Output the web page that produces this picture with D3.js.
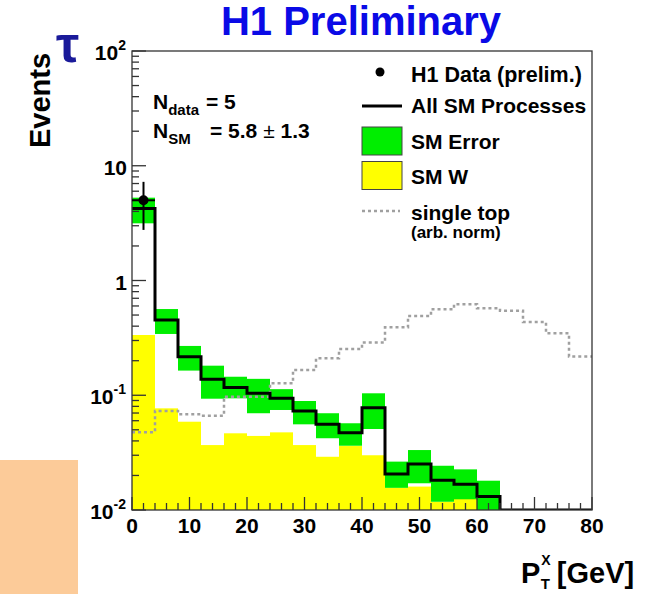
<!DOCTYPE html>
<html>
<head>
<meta charset="utf-8">
<script src="https://cdn.jsdelivr.net/npm/d3@7"></script>
<style>
  html, body { margin: 0; padding: 0; background: #fff; }
  svg { display: block; }
  text { font-family: "Liberation Sans", Arial, Helvetica, sans-serif; font-weight: bold; }
</style>
</head>
<body>
<svg id="chart" width="661" height="594"></svg>
<script>
// Tau channel: P_T^X distribution, 4 GeV bins from 0 to 80 GeV
const binLow = [0, 4, 8, 12, 16, 20, 24, 28, 32, 36, 40, 44, 48, 52, 56, 60, 64, 68, 72, 76];
const binWidth = 4;

// All SM processes (total expectation)
const smTotal = [4.25, 0.453, 0.217, 0.138, 0.117, 0.104, 0.094, 0.073, 0.0558, 0.0472,
                 0.0778, 0.0206, 0.0252, 0.0182, 0.0168, 0.0131, 0, 0, 0, 0];
// SM error band, upper and lower edges
const smErrHi = [5.27, 0.564, 0.269, 0.181, 0.145, 0.139, 0.113, 0.0891, 0.0697, 0.057,
                 0.104, 0.0264, 0.0333, 0.0243, 0.0226, 0.018, 0, 0, 0, 0];
const smErrLo = [3.15, 0.342, 0.164, 0.0933, 0.094, 0.0697, 0.0744, 0.0558, 0.0422, 0.0363,
                 0.0508, 0.0156, 0.0171, 0.0118, 0.0124, 0.008, 0, 0, 0, 0];
// SM W contribution
const smW = [0.335, 0.0769, 0.0588, 0.0368, 0.0466, 0.0442, 0.0475, 0.0368, 0.0291, 0.0361,
             0.030, 0.0156, 0.016, 0.0118, 0.0125, 0, 0, 0, 0, 0];
// Single top (arbitrary normalisation)
const singleTop = [0.0475, 0.073, 0.0683, 0.0664, 0.0971, 0.0971, 0.127, 0.166, 0.210, 0.253,
                   0.288, 0.391, 0.491, 0.561, 0.621, 0.573, 0.546, 0.435, 0.347, 0.218];
// H1 data
const dataX = [2];
const dataN = [5];
const dataErr = [2.24];

// Axis ticks
const xTicks = [0, 10, 20, 30, 40, 50, 60, 70, 80];
const yTicks = [0.01, 0.1, 1, 10, 100];
const yTickLabels = [["10", "-2"], ["10", "-1"], ["1", ""], ["10", ""], ["10", "2"]];

const svg = d3.select("#chart");
const W = 661, H = 594;
const plot = { left: 132, right: 592, top: 51, bottom: 510 };

const x = d3.scaleLinear().domain([0, 80]).range([plot.left, plot.right]);
const y = d3.scaleLog().domain([0.01, 100]).range([plot.bottom, plot.top]);
const yc = v => y(Math.max(v, 0.01));

svg.append("rect").attr("width", W).attr("height", H).attr("fill", "#fff");

// peach block at lower left
svg.append("rect").attr("x", 0).attr("y", 460).attr("width", 78).attr("height", 134)
  .attr("fill", "#fccb99");

svg.append("defs").append("clipPath").attr("id", "plotclip")
  .append("rect").attr("x", plot.left).attr("y", plot.top)
  .attr("width", plot.right - plot.left).attr("height", plot.bottom - plot.top);

const g = svg.append("g").attr("clip-path", "url(#plotclip)");

// SM W filled histogram
g.selectAll("rect.w").data(binLow.map((b, i) => ({ b, v: smW[i] })).filter(d => d.v > 0))
  .join("rect").attr("class", "w")
  .attr("x", d => x(d.b)).attr("width", d => x(d.b + binWidth) - x(d.b))
  .attr("y", d => yc(d.v)).attr("height", d => plot.bottom - yc(d.v))
  .attr("fill", "#ffff00");

// SM error band
g.selectAll("rect.err").data(binLow.map((b, i) => ({ b, hi: smErrHi[i], lo: smErrLo[i] })).filter(d => d.hi > 0))
  .join("rect").attr("class", "err")
  .attr("x", d => x(d.b)).attr("width", d => x(d.b + binWidth) - x(d.b))
  .attr("y", d => yc(d.hi)).attr("height", d => yc(d.lo) - yc(d.hi))
  .attr("fill", "#00ee00");

// step line helper
const stepLine = d3.line().curve(d3.curveStepAfter).x(d => x(d[0])).y(d => yc(d[1]));
const stepPts = vals => {
  const pts = binLow.map((b, i) => [b, vals[i]]);
  pts.push([binLow[binLow.length - 1] + binWidth, vals[vals.length - 1]]);
  return pts;
};

// single top (dotted)
g.append("path").attr("d", stepLine(stepPts(singleTop)))
  .attr("fill", "none").attr("stroke", "#a0a0a0").attr("stroke-width", 2.5)
  .attr("stroke-dasharray", "3,3");

// All SM processes
g.append("path").attr("d", stepLine(stepPts(smTotal)))
  .attr("fill", "none").attr("stroke", "#000").attr("stroke-width", 3);

// Frame
svg.append("rect").attr("x", plot.left).attr("y", plot.top)
  .attr("width", plot.right - plot.left).attr("height", plot.bottom - plot.top)
  .attr("fill", "none").attr("stroke", "#333").attr("stroke-width", 1.3);

// Y axis ticks (inside)
const yMinor = [];
for (let e = -2; e < 2; e++) for (let m = 2; m <= 9; m++) yMinor.push(m * Math.pow(10, e));
svg.append("g").selectAll("line").data(yTicks).join("line")
  .attr("x1", plot.left).attr("x2", plot.left + 14)
  .attr("y1", d => y(d)).attr("y2", d => y(d)).attr("stroke", "#333").attr("stroke-width", 1.3);
svg.append("g").selectAll("line").data(yMinor).join("line")
  .attr("x1", plot.left).attr("x2", plot.left + 7)
  .attr("y1", d => y(d)).attr("y2", d => y(d)).attr("stroke", "#333").attr("stroke-width", 1.3);

// X axis ticks (inside)
const xMinor = d3.range(0, 81, 2).filter(v => v % 10 !== 0);
svg.append("g").selectAll("line").data(xTicks).join("line")
  .attr("x1", d => x(d)).attr("x2", d => x(d))
  .attr("y1", plot.bottom).attr("y2", plot.bottom - 13).attr("stroke", "#333").attr("stroke-width", 1.3);
svg.append("g").selectAll("line").data(xMinor).join("line")
  .attr("x1", d => x(d)).attr("x2", d => x(d))
  .attr("y1", plot.bottom).attr("y2", plot.bottom - 7).attr("stroke", "#333").attr("stroke-width", 1.3);

// X tick labels
svg.append("g").selectAll("text").data(xTicks).join("text")
  .attr("x", d => x(d)).attr("y", plot.bottom + 23)
  .attr("text-anchor", "middle").attr("font-size", 21).text(d => d);

// Y tick labels
const yl = svg.append("g").selectAll("text").data(yTicks).join("text")
  .attr("x", 126).attr("y", d => y(d) + 9)
  .attr("text-anchor", "end").attr("font-size", 21);
yl.each(function (d, i) {
  const t = d3.select(this);
  const [base, sup] = yTickLabels[i];
  t.append("tspan").text(base);
  if (sup) t.append("tspan").attr("dy", -10).attr("font-size", 14).text(sup);
  else t.attr("x", 127);
});

// Data point with error bars
const dg = svg.append("g");
dataX.forEach((dx, i) => {
  dg.append("line").attr("x1", x(dx)).attr("x2", x(dx))
    .attr("y1", y(dataN[i] + dataErr[i])).attr("y2", y(dataN[i] - dataErr[i]))
    .attr("stroke", "#000").attr("stroke-width", 2);
  dg.append("line").attr("x1", x(dx - binWidth / 2)).attr("x2", x(dx + binWidth / 2))
    .attr("y1", y(dataN[i])).attr("y2", y(dataN[i]))
    .attr("stroke", "#000").attr("stroke-width", 2);
  dg.append("circle").attr("cx", x(dx)).attr("cy", y(dataN[i])).attr("r", 5).attr("fill", "#000");
});

// Title
svg.append("text").attr("x", 361).attr("y", 35).attr("text-anchor", "middle")
  .attr("font-size", 40).attr("fill", "#0a0ae6").text("H1 Preliminary");

// Y axis title
svg.append("text").attr("transform", "translate(50,148) rotate(-90)")
  .attr("font-size", 29).attr("fill", "#000").text("Events");

// tau symbol
svg.append("text").attr("x", 56).attr("y", 62)
  .attr("font-family", "'Liberation Serif', 'DejaVu Serif', serif").attr("font-weight", "normal")
  .attr("font-size", 52).attr("fill", "#1a1a9a").text("τ");

// X axis title
const xt = svg.append("text").attr("x", 521).attr("y", 583).attr("font-size", 29);
xt.append("tspan").text("P");
xt.append("tspan").attr("dx", 1).attr("dy", -18).attr("font-size", 14).text("X");
xt.append("tspan").attr("dx", -10).attr("dy", 24).attr("font-size", 15).text("T");
xt.append("tspan").attr("dx", 7).attr("dy", -6).text("[GeV]");

// N_data / N_SM annotation
const n1 = svg.append("text").attr("x", 153).attr("y", 109).attr("font-size", 21);
n1.append("tspan").text("N");
n1.append("tspan").attr("dy", 6).attr("font-size", 15).text("data");
n1.append("tspan").attr("dy", -6).attr("x", 206).text("= 5");
const n2 = svg.append("text").attr("x", 153).attr("y", 137.7).attr("font-size", 21);
n2.append("tspan").text("N");
n2.append("tspan").attr("dy", 6).attr("font-size", 15).text("SM");
n2.append("tspan").attr("dy", -6).attr("x", 210).text("= 5.8 ");
n2.append("tspan").attr("font-weight", "normal").text("±");
n2.append("tspan").text(" 1.3");

// Legend
const lg = svg.append("g");
const lgX = 411;
lg.append("circle").attr("cx", 380).attr("cy", 72).attr("r", 4.5).attr("fill", "#000");
lg.append("text").attr("x", lgX).attr("y", 81.7).attr("font-size", 21.5).text("H1 Data (prelim.)");
lg.append("line").attr("x1", 362).attr("x2", 402).attr("y1", 106).attr("y2", 106)
  .attr("stroke", "#000").attr("stroke-width", 3);
lg.append("text").attr("x", lgX).attr("y", 113.3).attr("font-size", 21).text("All SM Processes");
lg.append("rect").attr("x", 362).attr("y", 127).attr("width", 40).attr("height", 28)
  .attr("fill", "#00ee00").attr("stroke", "#444").attr("stroke-width", 1);
lg.append("text").attr("x", lgX).attr("y", 149).attr("font-size", 21).text("SM Error");
lg.append("rect").attr("x", 362).attr("y", 161.5).attr("width", 40).attr("height", 28)
  .attr("fill", "#ffff00").attr("stroke", "#444").attr("stroke-width", 1);
lg.append("text").attr("x", lgX).attr("y", 184).attr("font-size", 21).text("SM W");
lg.append("line").attr("x1", 362).attr("x2", 400).attr("y1", 211).attr("y2", 211)
  .attr("stroke", "#a0a0a0").attr("stroke-width", 2.5).attr("stroke-dasharray", "3,3");
lg.append("text").attr("x", lgX).attr("y", 220).attr("font-size", 21).text("single top");
lg.append("text").attr("x", lgX).attr("y", 237.7).attr("font-size", 17).text("(arb. norm)");
</script>
</body>
</html>
